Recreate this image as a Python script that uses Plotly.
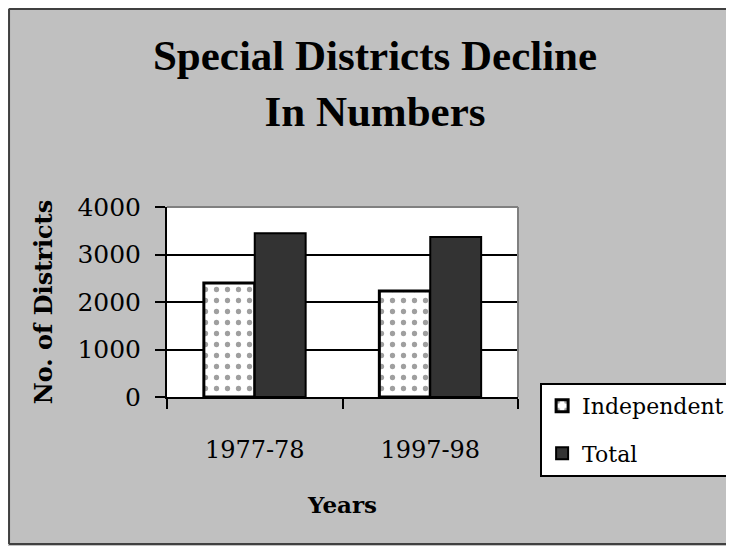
import plotly.graph_objects as go

# Données
annees = ['1977-78', '1997-98']
independent = [2400, 2230]
total = [3450, 3370]
y_ticks = [0, 1000, 2000, 3000, 4000]

FOND = '#C0C0C0'
SERIF = 'DejaVu Serif'

fig = go.Figure()
fig.add_trace(go.Bar(
    x=annees, y=independent, name='Independent', legendgroup='a',
    marker=dict(color='white', line=dict(color='black', width=3),
                pattern=dict(shape='.', fgcolor='#404040', bgcolor='white',
                             size=11, solidity=0.18))))
fig.add_trace(go.Bar(
    x=annees, y=total, name='Total', legendgroup='b',
    marker=dict(color='#333333', line=dict(color='black', width=2))))

fig.update_layout(
    width=734, height=546,
    paper_bgcolor=FOND, plot_bgcolor='white',
    margin=dict(l=159, r=224, t=199, b=157, autoexpand=False),
    barmode='group', bargap=0.42, bargroupgap=0,
    title=dict(text='Special Districts Decline<br>In Numbers',
               x=0.5, xanchor='center', y=0.886, yanchor='top',
               font=dict(family='Liberation Serif', size=43, color='black',
                         weight='bold')),
    legend=dict(x=1.063, xanchor='left', y=0.074, yanchor='top',
                bgcolor='white', bordercolor='black', borderwidth=2,
                font=dict(family=SERIF, size=22, color='black'),
                traceorder='grouped', tracegroupgap=16),
    font=dict(family=SERIF, color='black'),
)

fig.update_yaxes(
    range=[0, 4000], tickvals=y_ticks,
    showgrid=True, gridcolor='black', gridwidth=2,
    showline=True, linecolor='black', linewidth=2,
    ticks='outside', ticklen=10, tickcolor='black', tickwidth=2,
    ticklabelstandoff=9, zeroline=False,
    tickfont=dict(family=SERIF, size=25, color='black'),
    title=dict(text='No. of Districts', standoff=18,
               font=dict(family=SERIF, size=24, color='black', weight='bold')))
fig.update_xaxes(
    showline=True, linecolor='black', linewidth=2,
    ticks='outside', ticklen=10, tickcolor='black', tickwidth=2,
    tickson='boundaries', ticklabelstandoff=30,
    tickfont=dict(family=SERIF, size=24, color='black'),
    title=dict(text='Years', standoff=34,
               font=dict(family=SERIF, size=23, color='black', weight='bold')))

# bords gris du cadre du tracé (haut et droite)
fig.add_shape(type='line', xref='paper', yref='paper', x0=0, x1=1, y0=1, y1=1,
              line=dict(color='#808080', width=2))
fig.add_shape(type='line', xref='paper', yref='paper', x0=1, x1=1, y0=0, y1=1,
              line=dict(color='#808080', width=2))
# cadre extérieur (gauche, haut, bas)
cadre = dict(color='#404040', width=2)
fig.add_shape(type='line', xref='paper', yref='paper',
              x0=-0.45, x1=-0.45, y0=-0.774, y1=2.042, line=cadre)
fig.add_shape(type='line', xref='paper', yref='paper',
              x0=-0.45, x1=1.7, y0=2.042, y1=2.042, line=cadre)
fig.add_shape(type='line', xref='paper', yref='paper',
              x0=-0.45, x1=1.7, y0=-0.774, y1=-0.774, line=cadre)

fig.write_html("out.html")
